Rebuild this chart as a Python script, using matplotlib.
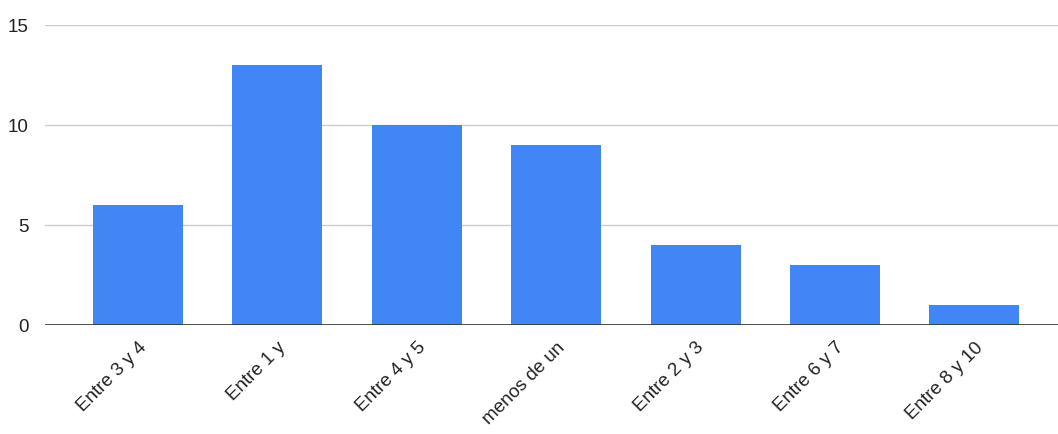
import matplotlib.pyplot as plt

# respuestas por rango
categorias = ['Entre 3 y 4', 'Entre 1 y', 'Entre 4 y 5', 'menos de un',
              'Entre 2 y 3', 'Entre 6 y 7', 'Entre 8 y 10']
valores = [6, 13, 10, 9, 4, 3, 1]
yticks = [0, 5, 10, 15]

plt.rcParams['font.family'] = ['Liberation Sans', 'DejaVu Sans']

fig = plt.figure(figsize=(10.58, 4.34), dpi=100)
ax = fig.add_axes([0.0425, 0.251, 0.9575, 0.691])

x = list(range(len(categorias)))
ax.bar(x, valores, width=0.645, color='#4285F4', zorder=3)

ax.set_xlim(-0.667, 6.6)
ax.set_ylim(0, 15)
ax.set_yticks(yticks)
ax.yaxis.grid(True, color='#cccccc', linewidth=1, zorder=0)
ax.axhline(0, color='#333333', linewidth=1.2, zorder=4)

for s in ax.spines.values():
    s.set_visible(False)
ax.tick_params(axis='both', length=0, labelsize=13.5, colors='#222222')
ax.tick_params(axis='y', pad=12)
ax.set_xticks(x)
ax.set_xticklabels(categorias, rotation=45, ha='right', rotation_mode='anchor')
ax.tick_params(axis='x', pad=10)

plt.savefig('out.png', dpi=100)
